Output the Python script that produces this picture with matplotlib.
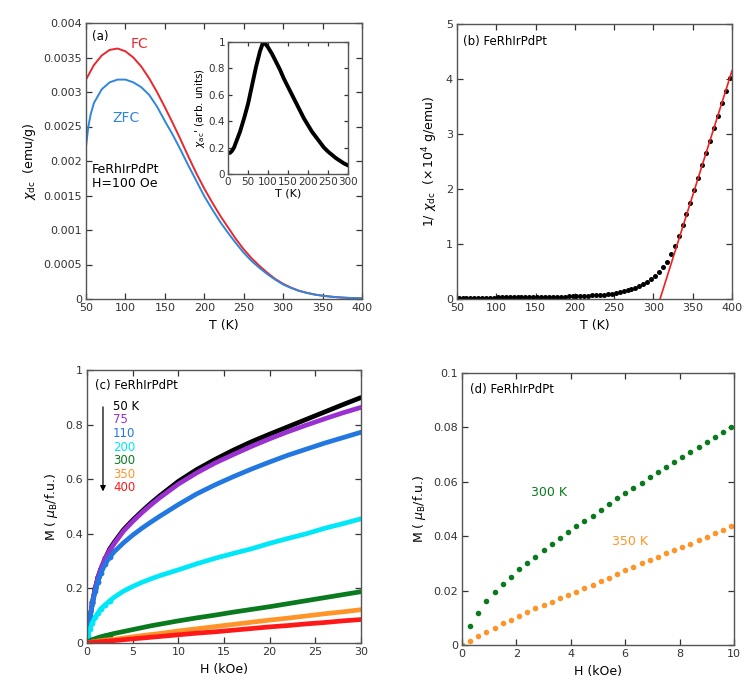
import matplotlib
matplotlib.use("Agg")
import matplotlib.pyplot as plt
from matplotlib.ticker import FuncFormatter, MultipleLocator

plt.rcParams['font.family'] = ['DejaVu Sans']
plt.rcParams['font.size'] = 8

# (a) chi_dc vs T, FC / ZFC
t_fc = [50, 60, 70, 80, 90, 100, 110, 120, 130, 140, 150, 160, 170, 180, 190, 200,
        210, 220, 230, 240, 250, 260, 270, 280, 290, 300, 310, 320, 330, 340, 350,
        360, 370, 380, 390, 400]
chi_fc = [3.18, 3.39, 3.53, 3.61, 3.63, 3.59, 3.50, 3.37, 3.20, 3.00, 2.78, 2.55,
          2.31, 2.06, 1.82, 1.60, 1.40, 1.21, 1.04, 0.87, 0.72, 0.59, 0.48, 0.38,
          0.29, 0.22, 0.165, 0.12, 0.09, 0.065, 0.048, 0.035, 0.025, 0.018, 0.013, 0.01]
t_zfc = [50, 53, 56, 60, 70, 80, 90, 100, 110, 120, 130, 140, 150, 160, 170, 180,
         190, 200, 210, 220, 230, 240, 250, 260, 270, 280, 290, 300, 310, 320, 330,
         340, 350, 360, 370, 380, 390, 400]
chi_zfc = [2.21, 2.50, 2.68, 2.84, 3.04, 3.14, 3.18, 3.18, 3.14, 3.07, 2.96, 2.79,
           2.58, 2.38, 2.16, 1.93, 1.71, 1.49, 1.30, 1.12, 0.96, 0.81, 0.67, 0.55,
           0.45, 0.36, 0.28, 0.21, 0.16, 0.118, 0.088, 0.064, 0.047, 0.034, 0.024,
           0.017, 0.012, 0.009]

# inset: chi_ac'
t_ac = [0, 5, 10, 15, 20, 25, 30, 40, 50, 60, 70, 80, 88, 95, 100, 110, 120, 130,
        140, 150, 160, 170, 180, 190, 200, 210, 220, 230, 240, 250, 260, 270, 280,
        290, 300]
chi_ac = [0.16, 0.16, 0.175, 0.20, 0.24, 0.28, 0.32, 0.42, 0.53, 0.67, 0.81, 0.93,
          1.0, 0.98, 0.96, 0.91, 0.85, 0.79, 0.72, 0.66, 0.60, 0.54, 0.48, 0.42,
          0.37, 0.32, 0.28, 0.24, 0.20, 0.17, 0.145, 0.12, 0.10, 0.08, 0.065]

# (b) inverse susceptibility (x 10^4 g/emu) and Curie-Weiss fit line
t_inv = [52, 57, 62, 67, 72, 77, 82, 87, 92, 97, 102, 107, 112, 117, 122, 127, 132,
         137, 142, 147, 152, 157, 162, 167, 172, 177, 182, 187, 192, 197, 202, 207,
         212, 217, 222, 227, 232, 237, 242, 247, 252, 257, 262, 267, 272, 277, 282,
         287, 292, 297, 302, 307, 312, 317, 322, 327, 332, 337, 342, 347, 352, 357,
         362, 367, 372, 377, 382, 387, 392, 397]
inv_chi = [0.024, 0.024, 0.024, 0.025, 0.025, 0.025, 0.026, 0.026, 0.027, 0.027,
           0.028, 0.028, 0.029, 0.030, 0.030, 0.031, 0.032, 0.033, 0.034, 0.035,
           0.036, 0.037, 0.038, 0.039, 0.040, 0.041, 0.042, 0.044, 0.046, 0.048,
           0.050, 0.052, 0.055, 0.060, 0.065, 0.070, 0.075, 0.080, 0.090, 0.100,
           0.110, 0.125, 0.140, 0.160, 0.180, 0.205, 0.235, 0.27, 0.31, 0.36,
           0.42, 0.49, 0.58, 0.68, 0.81, 0.96, 1.14, 1.34, 1.55, 1.75, 1.98, 2.20,
           2.43, 2.65, 2.88, 3.11, 3.33, 3.56, 3.79, 4.01]
t_fit = [308.4, 400]
inv_fit = [0.0, 4.15]

# (c) M-H curves
h_c = [0, 0.1, 0.3, 0.6, 0.9, 1.2, 1.5, 2, 2.5, 3, 4, 5, 6, 7, 8, 10, 12, 14, 16,
       18, 20, 22, 24, 26, 28, 30]
m_50 = [0.0, 0.02, 0.085, 0.15, 0.20, 0.24, 0.27, 0.31, 0.345, 0.37, 0.415, 0.45,
        0.482, 0.512, 0.54, 0.592, 0.635, 0.672, 0.706, 0.737, 0.765, 0.792, 0.819,
        0.846, 0.873, 0.899]
m_75 = [0.0, 0.02, 0.085, 0.15, 0.20, 0.24, 0.27, 0.31, 0.34, 0.365, 0.41, 0.445,
        0.477, 0.506, 0.533, 0.582, 0.623, 0.659, 0.69, 0.72, 0.748, 0.774, 0.798,
        0.821, 0.843, 0.863]
m_110 = [0.0, 0.02, 0.09, 0.145, 0.19, 0.225, 0.255, 0.29, 0.315, 0.335, 0.367,
         0.395, 0.42, 0.443, 0.465, 0.507, 0.546, 0.579, 0.609, 0.637, 0.663, 0.688,
         0.71, 0.732, 0.752, 0.772]
m_200 = [0.0, 0.03, 0.05, 0.075, 0.095, 0.11, 0.125, 0.14, 0.155, 0.168, 0.19,
         0.207, 0.222, 0.235, 0.247, 0.268, 0.29, 0.31, 0.328, 0.345, 0.365,
         0.383, 0.40, 0.42, 0.437, 0.455]
m_300 = [0.0, 0.003, 0.007, 0.012, 0.016, 0.0195, 0.0225, 0.027, 0.031, 0.035,
         0.042, 0.049, 0.056, 0.063, 0.069, 0.081, 0.092, 0.102, 0.113, 0.123,
         0.133, 0.144, 0.155, 0.166, 0.177, 0.188]
m_350 = [0.0, 0.0006, 0.0018, 0.0034, 0.0049, 0.0064, 0.0078, 0.0097, 0.0118,
         0.014, 0.018, 0.0225, 0.027, 0.031, 0.035, 0.044, 0.052, 0.060, 0.068,
         0.076, 0.084, 0.091, 0.099, 0.107, 0.114, 0.122]
m_400 = [0.0, 0.0003, 0.0009, 0.0018, 0.0027, 0.0036, 0.0045, 0.006, 0.0075, 0.009,
         0.012, 0.015, 0.018, 0.021, 0.024, 0.030, 0.036, 0.041, 0.047, 0.053,
         0.059, 0.064, 0.070, 0.075, 0.081, 0.086]
curves_c = [m_50, m_75, m_110, m_200, m_300, m_350, m_400]
labels_c = ["50 K", "75", "110", "200", "300", "350", "400"]
colors_c = ["#000000", "#9B30D0", "#2277E0", "#00E8F8", "#0A7A1E", "#FF9428", "#FF1818"]

# (d) low-field M-H at 300 K and 350 K
h_d = [0, 0.3, 0.6, 0.9, 1.2, 1.5, 1.8, 2.1, 2.4, 2.7, 3.0, 3.3, 3.6, 3.9, 4.2, 4.5,
       4.8, 5.1, 5.4, 5.7, 6.0, 6.3, 6.6, 6.9, 7.2, 7.5, 7.8, 8.1, 8.4, 8.7, 9.0,
       9.3, 9.6, 9.9]
m_d300 = [0.0, 0.0070, 0.0119, 0.0162, 0.0195, 0.0224, 0.0251, 0.0278, 0.0301,
          0.0324, 0.0348, 0.0370, 0.0392, 0.0414, 0.0436, 0.0455, 0.0476, 0.0497,
          0.0518, 0.0539, 0.0558, 0.0578, 0.0597, 0.0617, 0.0636, 0.0655, 0.0674,
          0.0693, 0.0711, 0.0729, 0.0748, 0.0765, 0.0783, 0.0802]
m_d350 = [0.0, 0.0016, 0.0034, 0.0049, 0.0064, 0.0080, 0.0092, 0.0106, 0.0121,
          0.0135, 0.0147, 0.0159, 0.0171, 0.0184, 0.0196, 0.0209, 0.0222, 0.0236,
          0.0248, 0.0261, 0.0275, 0.0288, 0.0300, 0.0312, 0.0324, 0.0337, 0.0349,
          0.0361, 0.0373, 0.0386, 0.0398, 0.0410, 0.0422, 0.0437]

W, H = 756, 697
fig = plt.figure(figsize=(W / 100, H / 100), dpi=100)


def box(l, t, r, b):
    return [l / W, (H - b) / H, (r - l) / W, (b - t) / H]


def style(ax, size=8):
    for s in ax.spines.values():
        s.set_color("#555555")
        s.set_linewidth(1.0)
    ax.tick_params(direction="in", top=True, right=True, length=4, width=0.9,
                   labelsize=size, colors="#333333", pad=3)


fmt = FuncFormatter(lambda v, p: "{:g}".format(round(v, 6)))

# ---- (a)
ax_a = fig.add_axes(box(86, 23, 362, 299))
ax_a.plot(t_fc, [v * 1e-3 for v in chi_fc], color="#E8282C", lw=1.4)
ax_a.plot(t_zfc, [v * 1e-3 for v in chi_zfc], color="#2F86DC", lw=1.4)
ax_a.set_xlim(50, 400)
ax_a.set_ylim(0, 0.004)
ax_a.xaxis.set_major_locator(MultipleLocator(50))
ax_a.yaxis.set_major_locator(MultipleLocator(0.0005))
ax_a.yaxis.set_major_formatter(fmt)
style(ax_a)
ax_a.set_xlabel("T (K)", fontsize=9)
ax_a.set_ylabel(r"$\chi_{\rm dc}$  (emu/g)", fontsize=9)
ax_a.text(57, 0.0038, "(a)", fontsize=8.5, va="center")
ax_a.text(118, 0.0037, "FC", color="#E8282C", fontsize=10, ha="center", va="center")
ax_a.text(101, 0.00262, "ZFC", color="#2F86DC", fontsize=10, ha="center", va="center")
ax_a.text(57, 0.00187, "FeRhIrPdPt", fontsize=9, va="center")
ax_a.text(57, 0.00167, "H=100 Oe", fontsize=9, va="center")

# inset
ax_in = fig.add_axes(box(228, 42, 348, 174))
ax_in.plot(t_ac, chi_ac, color="black", lw=2.8)
ax_in.set_xlim(0, 300)
ax_in.set_ylim(0, 1)
ax_in.xaxis.set_major_locator(MultipleLocator(50))
ax_in.yaxis.set_major_locator(MultipleLocator(0.2))
ax_in.yaxis.set_major_formatter(fmt)
style(ax_in, size=7.5)
ax_in.tick_params(length=3, pad=2)
ax_in.set_xlabel("T (K)", fontsize=8, labelpad=1)
ax_in.set_ylabel(r"$\chi_{\rm ac}$' (arb. units)", fontsize=7.5, labelpad=1)

# ---- (b)
ax_b = fig.add_axes(box(457, 24, 732, 299))
ax_b.plot(t_inv, inv_chi, "o", color="black", ms=3.6, mec="none")
ax_b.plot(t_fit, inv_fit, color="#F02020", lw=1.2)
ax_b.set_xlim(50, 400)
ax_b.set_ylim(0, 5)
ax_b.xaxis.set_major_locator(MultipleLocator(50))
ax_b.yaxis.set_major_locator(MultipleLocator(1))
style(ax_b)
ax_b.set_xlabel("T (K)", fontsize=9)
ax_b.set_ylabel(r"1/ $\chi_{\rm dc}$  ($\times\,10^4$ g/emu)", fontsize=9)
ax_b.text(58, 4.68, "(b) FeRhIrPdPt", fontsize=8.5, va="center")

# ---- (c)
ax_c = fig.add_axes(box(87, 370, 361, 643))
n_dots = 9  # low-field points show up as separate dots
for m, c in zip(curves_c, colors_c):
    ax_c.plot(h_c, m, "-", color=c, lw=3.4, solid_capstyle="round")
    ax_c.plot(h_c[:n_dots], m[:n_dots], "o", color=c, ms=4.2, mec="none")
ax_c.set_xlim(0, 30)
ax_c.set_ylim(0, 1)
ax_c.xaxis.set_major_locator(MultipleLocator(5))
ax_c.yaxis.set_major_locator(MultipleLocator(0.2))
ax_c.yaxis.set_major_formatter(fmt)
style(ax_c)
ax_c.set_xlabel("H (kOe)", fontsize=9)
ax_c.set_ylabel(r"M ( $\mu_{\rm B}$/f.u.)", fontsize=9)
ax_c.text(0.9, 0.945, "(c) FeRhIrPdPt", fontsize=8.5, va="center")
label_y = [0.866, 0.817, 0.768, 0.717, 0.668, 0.619, 0.57]
for lab, c, y in zip(labels_c, colors_c, label_y):
    ax_c.text(2.85, y, lab, color=c, fontsize=8.5, va="center")
ax_c.annotate("", xy=(1.75, 0.545), xytext=(1.75, 0.875),
              arrowprops=dict(arrowstyle="-|>", color="black", lw=0.9,
                              mutation_scale=8))

# ---- (d)
ax_d = fig.add_axes(box(462, 373, 734, 645))
ax_d.plot(h_d, m_d300, "o", color="#0A7A1E", ms=4, mec="none")
ax_d.plot(h_d, m_d350, "o", color="#FF9428", ms=4, mec="none")
ax_d.set_xlim(0, 10)
ax_d.set_ylim(0, 0.1)
ax_d.xaxis.set_major_locator(MultipleLocator(2))
ax_d.yaxis.set_major_locator(MultipleLocator(0.02))
ax_d.yaxis.set_major_formatter(fmt)
style(ax_d)
ax_d.set_xlabel("H (kOe)", fontsize=9)
ax_d.set_ylabel(r"M ( $\mu_{\rm B}$/f.u.)", fontsize=9)
ax_d.text(0.28, 0.094, "(d) FeRhIrPdPt", fontsize=8.5, va="center")
ax_d.text(2.55, 0.056, "300 K", color="#0A7A1E", fontsize=9, va="center")
ax_d.text(5.5, 0.038, "350 K", color="#FF9428", fontsize=9, va="center")

fig.savefig("out.png", dpi=100)
